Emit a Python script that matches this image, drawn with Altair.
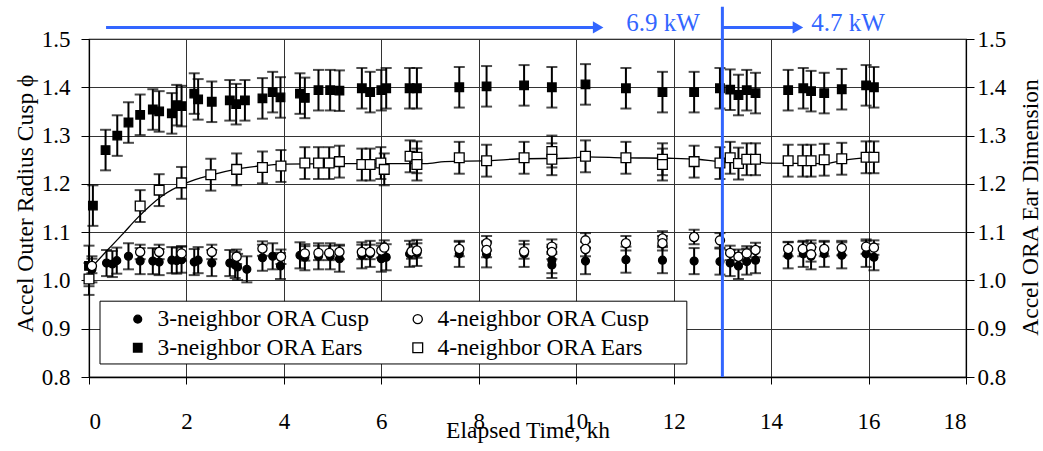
import altair as alt
import pandas as pd

FONT = "Liberation Serif"
BLUE = "#3366ff"

# ---------------- data ----------------
# legend is filled column by column: first column 3-neighbor, second column 4-neighbor
series_names = ["3-neighbor ORA Cusp", "3-neighbor ORA Ears",
                "4-neighbor ORA Cusp", "4-neighbor ORA Ears"]
series_shapes = ["circle", "square", "circle", "square"]
series_fills = ["black", "black", "white", "white"]
series_sizes = [62, 95, 48, 62]
series_err = [0.027, 0.042, 0.015, 0.033]

cusp3_t = [0.06, 0.36, 0.48, 0.57, 0.81, 1.05, 1.31, 1.44, 1.70, 1.80, 1.90, 2.16, 2.24,
           2.52, 2.89, 3.00, 3.05, 3.24, 3.56, 3.77, 3.93, 4.33, 4.43, 4.71, 4.95, 5.14,
           5.60, 5.77, 6.00, 6.10, 6.58, 6.73, 7.60, 8.16, 8.93, 9.50, 9.50, 10.19, 11.02,
           11.77, 12.42, 12.95, 13.16, 13.33, 13.50, 13.68, 14.35, 14.66, 14.82, 15.09,
           15.45, 15.95, 16.11]
cusp3_v = [1.023, 1.036, 1.034, 1.041, 1.050, 1.040, 1.040, 1.038, 1.042, 1.041, 1.043, 1.038, 1.042,
           1.036, 1.036, 1.032, 1.028, 1.023, 1.047, 1.050, 1.030, 1.052, 1.048, 1.050, 1.050, 1.045,
           1.052, 1.055, 1.045, 1.048, 1.055, 1.057, 1.055, 1.054, 1.055, 1.042, 1.032, 1.040, 1.043,
           1.042, 1.040, 1.039, 1.036, 1.030, 1.039, 1.042, 1.052, 1.055, 1.050, 1.055,
           1.052, 1.055, 1.048]

cusp4_t = [0.06, 1.05, 1.44, 1.90, 2.52, 3.03, 3.56, 3.94, 4.43, 4.71, 4.93, 5.14, 5.60,
           5.77, 6.00, 6.06, 6.62, 6.73, 7.60, 8.16, 8.16, 8.93, 9.50, 9.50, 10.19, 10.19,
           11.02, 11.77, 11.77, 12.42, 12.95, 13.16, 13.33, 13.50, 13.68, 14.35, 14.65,
           14.82, 14.82, 15.09, 15.45, 15.95, 16.11]
cusp4_v = [1.030, 1.059, 1.059, 1.056, 1.059, 1.049, 1.066, 1.049, 1.056, 1.057, 1.057, 1.059, 1.059,
           1.059, 1.062, 1.068, 1.060, 1.062, 1.065, 1.077, 1.063, 1.060, 1.070, 1.059, 1.083, 1.065,
           1.077, 1.087, 1.077, 1.090, 1.083, 1.057, 1.049, 1.056, 1.063, 1.065, 1.065,
           1.068, 1.054, 1.065, 1.067, 1.070, 1.068]

ears3_t = [0.00, 0.08, 0.34, 0.58, 0.81, 1.05, 1.31, 1.44, 1.70, 1.80, 1.90, 2.16, 2.24,
           2.52, 2.89, 3.02, 3.20, 3.56, 3.77, 3.93, 4.33, 4.43, 4.71, 4.95, 5.14, 5.60,
           5.77, 6.00, 6.10, 6.58, 6.73, 7.60, 8.16, 8.93, 9.50, 10.19, 11.02, 11.77, 12.42,
           12.95, 13.16, 13.33, 13.50, 13.68, 14.35, 14.66, 14.82, 15.09, 15.45, 15.95, 16.11]
ears3_v = [1.030, 1.155, 1.270, 1.300, 1.327, 1.343, 1.354, 1.350, 1.346, 1.363, 1.361, 1.387, 1.375,
           1.370, 1.373, 1.365, 1.373, 1.377, 1.390, 1.379, 1.387, 1.378, 1.394, 1.394, 1.393, 1.398,
           1.390, 1.394, 1.398, 1.398, 1.398, 1.400, 1.402, 1.404, 1.400, 1.406, 1.398, 1.390, 1.390,
           1.398, 1.395, 1.384, 1.394, 1.388, 1.394, 1.398, 1.392, 1.388, 1.396, 1.404, 1.400]

ears4_t = [0.00, 1.05, 1.44, 1.90, 2.50, 3.03, 3.56, 3.94, 4.43, 4.71, 4.93, 5.14, 5.60,
           5.77, 5.99, 6.06, 6.59, 6.73, 6.73, 7.60, 8.16, 8.93, 9.50, 9.50, 10.19, 11.02,
           11.77, 11.77, 12.42, 12.95, 13.16, 13.33, 13.50, 13.68, 14.35, 14.65, 14.82,
           15.09, 15.45, 15.95, 16.11]
ears4_v = [1.003, 1.154, 1.187, 1.202, 1.219, 1.230, 1.234, 1.237, 1.243, 1.243, 1.243, 1.246, 1.240,
           1.240, 1.243, 1.230, 1.257, 1.255, 1.240, 1.254, 1.248, 1.254, 1.267, 1.251, 1.257, 1.254,
           1.251, 1.240, 1.246, 1.243, 1.254, 1.242, 1.251, 1.251, 1.248, 1.248, 1.248,
           1.250, 1.252, 1.255, 1.255]

# smoothed trend line through the 4-neighbor ears
fit_t = [0.05, 0.4, 0.7, 1.0, 1.5, 2.0, 2.5, 3.0, 3.5, 4.0, 5.0, 6.0, 6.9, 7.3, 8.2, 8.9,
         9.8, 10.2, 11.0, 11.9, 12.5, 13.0, 13.5, 13.9, 15.1, 15.5, 16.1]
fit_v = [1.027, 1.065, 1.097, 1.130, 1.175, 1.202, 1.218, 1.230, 1.237, 1.241, 1.242, 1.242,
         1.242, 1.246, 1.248, 1.252, 1.253, 1.256, 1.254, 1.253, 1.251, 1.246, 1.249, 1.243,
         1.242, 1.249, 1.256]

# power-level annotations
power_change_t = [13.0]
power_line_y = [0.8, 1.567]
arrow_x0 = [0.35, 13.0]
arrow_x1 = [10.45, 14.55]
arrow_y = [1.524, 1.524]
power_labels = ["6.9 kW", "4.7 kW"]
power_label_x = [11.78, 15.58]
power_label_y = [1.516, 1.516]

# legend frame extent (in axis units)
legend_box_x = [0.226, 12.27]
legend_box_y = [0.827, 0.957]

x_ticks = [0, 2, 4, 6, 8, 10, 12, 14, 16, 18]
y_ticks = [0.8, 0.9, 1.0, 1.1, 1.2, 1.3, 1.4, 1.5]

# ---------------- tables ----------------
parts = []
for name, ts, vs, err in zip(series_names,
                             [cusp3_t, ears3_t, cusp4_t, ears4_t],
                             [cusp3_v, ears3_v, cusp4_v, ears4_v],
                             series_err):
    parts.append(pd.DataFrame({"t": ts, "v": vs, "series": name,
                               "lo": [v - err for v in vs], "hi": [v + err for v in vs]}))
pts = pd.concat(parts, ignore_index=True)
caps = pd.concat([pts[["t", "lo"]].rename(columns={"lo": "c"}),
                  pts[["t", "hi"]].rename(columns={"hi": "c"})], ignore_index=True)
fit = pd.DataFrame({"t": fit_t, "v": fit_v})
vline = pd.DataFrame({"t": power_change_t, "y0": [power_line_y[0]], "y1": [power_line_y[1]]})
arrows = pd.DataFrame({"x0": arrow_x0, "x1": arrow_x1, "y": arrow_y})
labels = pd.DataFrame({"x": power_label_x, "y": power_label_y, "text": power_labels})
box = pd.DataFrame({"x0": [legend_box_x[0]], "x1": [legend_box_x[1]],
                    "y0": [legend_box_y[0]], "y1": [legend_box_y[1]]})

# ---------------- scales & axes ----------------
xscale = alt.Scale(domain=[0, 18], nice=False)
yscale = alt.Scale(domain=[0.8, 1.5], nice=False, zero=False)

xaxis = alt.Axis(values=x_ticks, format="d", grid=True, gridColor="#333333", gridWidth=1,
                 labelFont=FONT, labelFontSize=23, labelColor="black", labelBaseline="alphabetic",
                 labelPadding=44, tickSize=7, tickColor="black", tickWidth=1,
                 domainColor="black", domainWidth=1.5,
                 title="Elapsed Time, kh", titleFont=FONT, titleFontSize=23.5,
                 titleFontWeight="normal", titleColor="black", titleBaseline="alphabetic",
                 titleY=60)

yaxis_left = alt.Axis(values=y_ticks, format=".1f", grid=True, gridColor="#333333", gridWidth=1,
                      labelFont=FONT, labelFontSize=23, labelColor="black", labelPadding=11,
                      tickSize=8, tickColor="black", domainColor="black", domainWidth=1.2,
                      title="Accel Outer Radius Cusp \u03d5", titleFont=FONT, titleFontSize=23.5,
                      titleFontWeight="normal", titleColor="black", titleAngle=270,
                      titleBaseline="alphabetic", titleX=-57, titleY=164)

yaxis_right = alt.Axis(values=y_ticks, format=".1f", grid=False, orient="right",
                       labelFont=FONT, labelFontSize=23, labelColor="black", labelPadding=3,
                       tickSize=8, tickColor="black", domainColor="black", domainWidth=1.2,
                       title="Accel ORA Ear Dimension", titleFont=FONT, titleFontSize=23.5,
                       titleFontWeight="normal", titleColor="black", titleAngle=270,
                       titleBaseline="alphabetic", titleX=71, titleY=168)

leg = alt.Legend(orient="none", legendX=11, legendY=265, columns=2, title=None,
                 labelFont=FONT, labelFontSize=23.5, labelColor="black",
                 padding=3, rowPadding=4, columnPadding=12,
                 symbolOffset=23, labelOffset=8,
                 symbolStrokeColor="black", symbolStrokeWidth=1.3, symbolOpacity=1,
                 labelLimit=400)

X = lambda f: alt.X(f, scale=xscale, axis=xaxis)

# ---------------- layers ----------------
curve = alt.Chart(fit).mark_line(color="black", strokeWidth=1.3, interpolate="monotone").encode(
    x=X("t:Q"), y=alt.Y("v:Q", scale=yscale, axis=yaxis_right))

legend_frame = alt.Chart(box).mark_rect(fill="white", stroke="black", strokeWidth=1).encode(
    x=X("x0:Q"), x2="x1:Q", y=alt.Y("y0:Q", scale=yscale, axis=yaxis_left), y2="y1:Q")

bars = alt.Chart(pts).mark_rule(color="black", strokeWidth=2).encode(
    x=X("t:Q"), y=alt.Y("lo:Q", scale=yscale, axis=yaxis_left), y2="hi:Q")

cap_marks = alt.Chart(caps).mark_tick(orient="horizontal", size=11, thickness=2, color="black").encode(
    x=X("t:Q"), y=alt.Y("c:Q", scale=yscale, axis=yaxis_left))

points = alt.Chart(pts).mark_point(filled=True, strokeWidth=1.3, opacity=1).encode(
    x=X("t:Q"), y=alt.Y("v:Q", scale=yscale, axis=yaxis_left),
    shape=alt.Shape("series:N", sort=series_names,
                    scale=alt.Scale(domain=series_names, range=series_shapes), legend=leg),
    fill=alt.Fill("series:N", sort=series_names,
                  scale=alt.Scale(domain=series_names, range=series_fills), legend=leg),
    stroke=alt.Stroke("series:N", sort=series_names,
                      scale=alt.Scale(domain=series_names, range=["black"] * 4), legend=leg),
    size=alt.Size("series:N", sort=series_names,
                  scale=alt.Scale(domain=series_names, range=series_sizes), legend=leg),
)

vrule = alt.Chart(vline).mark_rule(color=BLUE, strokeWidth=3).encode(
    x=X("t:Q"), y=alt.Y("y0:Q", scale=yscale, axis=yaxis_left), y2="y1:Q")

arrow_lines = alt.Chart(arrows).mark_rule(color=BLUE, strokeWidth=3).encode(
    x=X("x0:Q"), x2="x1:Q", y=alt.Y("y:Q", scale=yscale, axis=yaxis_left))

arrow_heads = alt.Chart(arrows).mark_point(shape="triangle-right", filled=True, color=BLUE,
                                           opacity=1, size=150).encode(
    x=X("x1:Q"), y=alt.Y("y:Q", scale=yscale, axis=yaxis_left))

arrow_text = alt.Chart(labels).mark_text(font=FONT, fontSize=25, color=BLUE, align="center",
                                         baseline="alphabetic").encode(
    x=X("x:Q"), y=alt.Y("y:Q", scale=yscale, axis=yaxis_left), text="text:N")

main = alt.layer(legend_frame, bars, cap_marks, points, vrule, arrow_lines, arrow_heads, arrow_text)

chart = alt.layer(curve, main).resolve_scale(y="independent").properties(
    width=877, height=338,
    padding={"left": 89, "top": 39, "right": 77, "bottom": 74},
    autosize=alt.AutoSizeParams(type="none"),
    background="white",
).configure(font=FONT).configure_axis(
    labelFont=FONT, titleFont=FONT
).configure_legend(
    labelFont=FONT
).configure_text(font=FONT).configure_view(stroke="black", strokeWidth=1.2)

chart.save("out.html", embed_options={"renderer": "svg", "actions": False})
